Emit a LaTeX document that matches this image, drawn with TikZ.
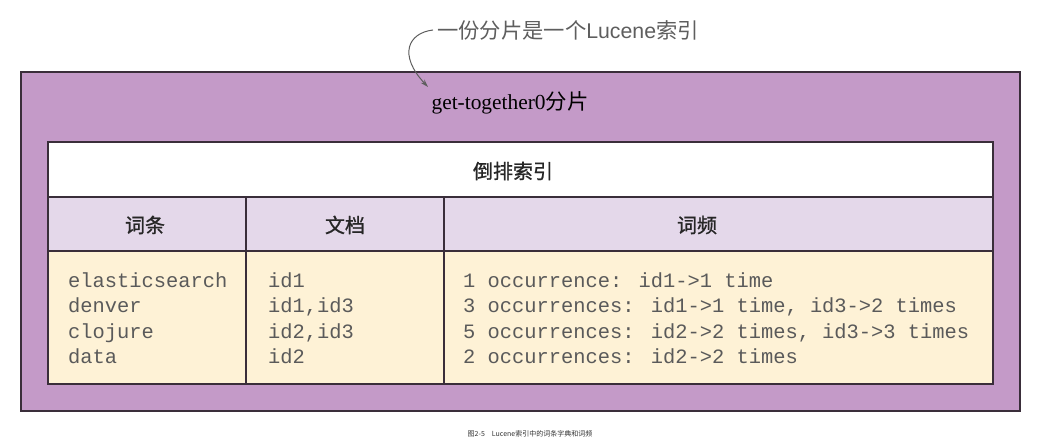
\documentclass[tikz,border=0pt]{standalone}
\usepackage{fontspec}
\setmainfont{Liberation Serif}
\newfontfamily\cjk{Noto Sans CJK SC}
\newfontfamily\cjkb[FakeBold=1]{Noto Sans CJK SC}
\newfontfamily\monof{Liberation Mono}
\newfontfamily\sansf{Liberation Sans}
\usetikzlibrary{arrows.meta}
\definecolor{shard}{HTML}{C49AC8}
\definecolor{colhdr}{HTML}{E4D8EA}
\definecolor{cream}{HTML}{FEF2D6}
\definecolor{edge}{HTML}{3A2E3A}
\definecolor{txtgray}{HTML}{5A5A5A}
\definecolor{annogray}{HTML}{5E5E5E}
\tikzset{
  x=1pt,y=1pt,
  boxline/.style={draw=edge,line width=1.8pt},
  colhead/.style={font=\cjkb\fontsize{20}{22}\selectfont,text=black!85,anchor=center},
  datacell/.style={font=\monof\fontsize{20.4}{25.5}\selectfont,text=txtgray,anchor=west,align=left,inner sep=0pt},
}
\begin{document}
\begin{tikzpicture}
\useasboundingbox (0,0) rectangle (1058,443);
% outer shard
\draw[boxline,fill=shard] (21,32) rectangle (1020,371);
% table rows
\draw[boxline,fill=white] (48,246) rectangle (993,301);
\draw[boxline,fill=colhdr] (48,192) rectangle (993,246);
\draw[boxline,fill=cream] (48,59) rectangle (993,192);
\draw[boxline] (246,59) -- (246,246);
\draw[boxline] (444,59) -- (444,246);
% texts
\node (title) at (510,340) {\fontsize{21.4}{24}\selectfont get-together0{\cjk 分片}};
\node[colhead] (inv) at (513,272) {倒排索引};
\node[colhead] (h1) at (145,218) {词条};
\node[colhead] (h2) at (345,218) {文档};
\node[colhead] (h3) at (697,218) {词频};
\node[datacell] (c1) at (68,125) {elasticsearch\\denver\\clojure\\data};
\node[datacell] (c2) at (268,125) {id1\\id1,id3\\id2,id3\\id2};
\node[datacell] (c3) at (463,125) {1 occurrence: id1->1 time\\3 occurrences: id1->1 time, id3->2 times\\5 occurrences: id2->2 times, id3->3 times\\2 occurrences: id2->2 times};
\node[anchor=west,inner sep=0pt,text=annogray,font=\cjk\fontsize{21.3}{26}\selectfont] (anno) at (437,413) {一份分片是一个{\sansf Lucene}索引};
\coordinate (tip) at (428,356);
\draw[annogray,line width=1pt,-{Stealth[length=8pt,width=5pt]}] ([xshift=-4pt]anno.west) .. controls (408,410) and (398,388) .. (tip);
\node[font=\cjk\fontsize{7}{8}\selectfont,text=black!80] (cap) at (530,9) {图2-5\quad Lucene索引中的词条字典和词频};
\end{tikzpicture}
\end{document}
